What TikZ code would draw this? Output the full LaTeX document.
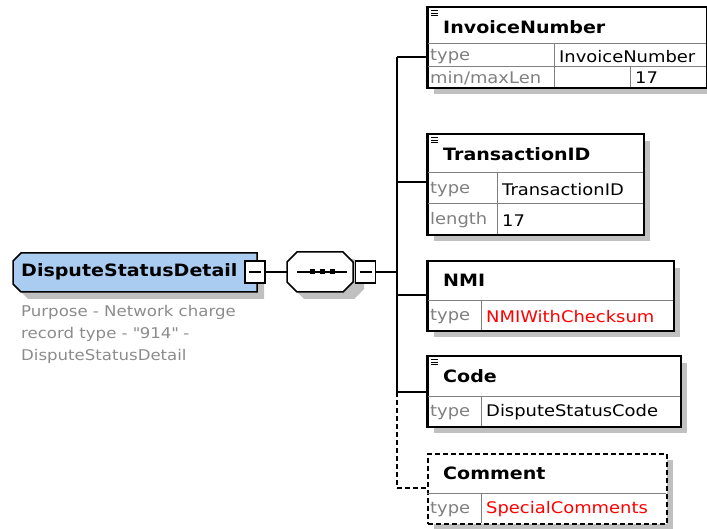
\documentclass[tikz,border=0pt]{standalone}
\usepackage{fontspec}
\setmainfont{DejaVu Sans}[FakeStretch=1.12]
\usetikzlibrary{calc}
\definecolor{elemblue}{RGB}{170,204,240}
\definecolor{shadowgray}{RGB}{192,192,192}
\definecolor{labelgray}{RGB}{128,128,128}
\definecolor{descgray}{RGB}{140,140,140}
\definecolor{typered}{RGB}{255,0,0}
\tikzset{
  box/.style={draw=black, line width=1.5pt, fill=white, inner sep=0pt, anchor=north west},
  optbox/.style={box, dash pattern=on 5pt off 3pt},
  cellline/.style={draw=labelgray, line width=1pt},
  wire/.style={draw=black, line width=1.2pt},
  optwire/.style={wire, dash pattern=on 5pt off 3pt},
  title/.style={font=\fontsize{17}{20}\selectfont\bfseries, anchor=west, inner sep=0pt},
  lbl/.style={font=\fontsize{16}{19}\selectfont, text=labelgray, anchor=west, inner sep=0pt},
  val/.style={font=\fontsize{16}{19}\selectfont, text=black, anchor=west, inner sep=0pt},
  redval/.style={val, text=typered},
  minusbox/.style={draw=black, line width=1.2pt, fill=white, minimum width=20pt, minimum height=22pt, inner sep=0pt},
}
% three-bar marker drawn in the top-left of a header
\newcommand{\bars}[1]{%
  \foreach \dy in {4,6.5,9} {\draw[line width=1pt] ($(#1.north west)+(4,\dy)$) -- ++(7,0);}}
\begin{document}
\begin{tikzpicture}[x=1pt, y=-1pt]
\useasboundingbox (0,0) rectangle (707,529);

% ---------- shadows ----------
\fill[shadowgray] (20,260) -- (264,260) -- (264,299) -- (28,299) -- (20,291) -- cycle;
\fill[shadowgray] (304,259) -- (354,259) -- (364,269) -- (364,289) -- (354,299) -- (304,299) -- (294,289) -- (294,269) -- cycle;
\fill[shadowgray] (434,14) rectangle (713,94);
\fill[shadowgray] (434,141) rectangle (650,241);
\fill[shadowgray] (434,268) rectangle (680,337);
\fill[shadowgray] (434,363) rectangle (687,433);
\fill[shadowgray] (434,460) rectangle (673,530);

% ---------- root element ----------
\draw[line width=1.5pt, fill=elemblue] (21,253) -- (257,253) -- (257,292) -- (21,292) -- (13,284) -- (13,261) -- cycle;
\node[title, anchor=west] (root) at (21,272) {DisputeStatusDetail};
\node[minusbox] (rootm) at (255,272) {};
\draw[line width=1.2pt] ($(rootm.center)+(-6,0)$) -- ++(12,0);

% ---------- sequence compositor ----------
\node[draw=none, minimum width=66pt, minimum height=40pt, inner sep=0pt] (seq) at (320,272) {};
\draw[line width=1.5pt, fill=white] (297,252) -- (343,252) -- (353,262) -- (353,282) -- (343,292) -- (297,292) -- (287,282) -- (287,262) -- cycle;
\draw[line width=1.2pt] (297,272) -- (347,272);
\foreach \px in {312,322,332} {\fill (\px-2.5,269.5) rectangle (\px+2.5,274.5);}
\node[minusbox] (seqm) at (365.5,272) {};
\draw[line width=1.2pt] ($(seqm.center)+(-6,0)$) -- ++(12,0);

\draw[wire] (rootm.east) -- (seq.west);
\draw[wire] (seqm.east) -- (397,272);

% ---------- InvoiceNumber ----------
\node[box, minimum width=279pt, minimum height=80pt] (inv) at (427,7) {};
\draw[cellline] (427,44) -- (706,44) (427,67) -- (706,67) (554,44) -- (554,87) (630,67) -- (630,87);
\draw[line width=1.5pt] (inv.north west) rectangle (inv.south east);
\bars{inv}
\node[title] (invt) at (443,27) {InvoiceNumber};
\node[lbl] at (430,57) {type};
\node[val] at (559,57) {InvoiceNumber};
\node[lbl] at (430,78) {min/maxLen};
\node[val] at (635,78) {17};

% ---------- TransactionID ----------
\node[box, minimum width=216pt, minimum height=100pt] (tid) at (427,134) {};
\draw[cellline] (427,173) -- (643,173) (427,204) -- (643,204) (497,173) -- (497,234);
\draw[line width=1.5pt] (tid.north west) rectangle (tid.south east);
\bars{tid}
\node[title] at (443,154) {TransactionID};
\node[lbl] at (430,190) {type};
\node[val] at (502,190) {TransactionID};
\node[lbl] at (430,220.5) {length};
\node[val] at (502,220.5) {17};

% ---------- NMI ----------
\node[box, minimum width=246pt, minimum height=69pt] (nmi) at (427,261) {};
\draw[cellline] (427,301) -- (673,301) (481,301) -- (481,330);
\draw[line width=1.5pt] (nmi.north west) rectangle (nmi.south east);
\node[title] at (443,280) {NMI};
\node[lbl] at (430,317) {type};
\node[redval] at (486,317) {NMIWithChecksum};

% ---------- Code ----------
\node[box, minimum width=253pt, minimum height=70pt] (code) at (427,356) {};
\draw[cellline] (427,396) -- (680,396) (481,396) -- (481,426);
\draw[line width=1.5pt] (code.north west) rectangle (code.south east);
\bars{code}
\node[title] at (443,376) {Code};
\node[lbl] at (430,412.5) {type};
\node[val] at (486,412.5) {DisputeStatusCode};

% ---------- Comment (optional) ----------
\node[optbox, minimum width=239pt, minimum height=70pt] (com) at (427,453) {};
\draw[cellline] (427,493) -- (666,493) (481,493) -- (481,523);
\node[title] at (443,473) {Comment};
\node[lbl] at (430,509.5) {type};
\node[redval] at (486,509.5) {SpecialComments};

% ---------- bus and connectors ----------
\coordinate (b1) at (397,57);
\coordinate (b2) at (397,182);
\coordinate (b3) at (397,295);
\coordinate (b4) at (397,392);
\coordinate (b5) at (397,488);
\draw[wire] (b1) -- (b4);
\draw[optwire] (b4) -- (b5);
\draw[wire] (b1) -- (b1 -| inv.west);
\draw[wire] (b2) -- (b2 -| tid.west);
\draw[wire] (b3) -- (b3 -| nmi.west);
\draw[wire] (b4) -- (b4 -| code.west);
\draw[optwire] (b5) -- (b5 -| com.west);

% ---------- annotation ----------
\node[font=\fontsize{14.8}{22}\selectfont, text=descgray, align=left, anchor=north west, inner sep=0pt] (desc) at (21,305)
  {Purpose - Network charge\\record type - \textquotedbl 914\textquotedbl{} -\\DisputeStatusDetail};
\end{tikzpicture}
\end{document}
